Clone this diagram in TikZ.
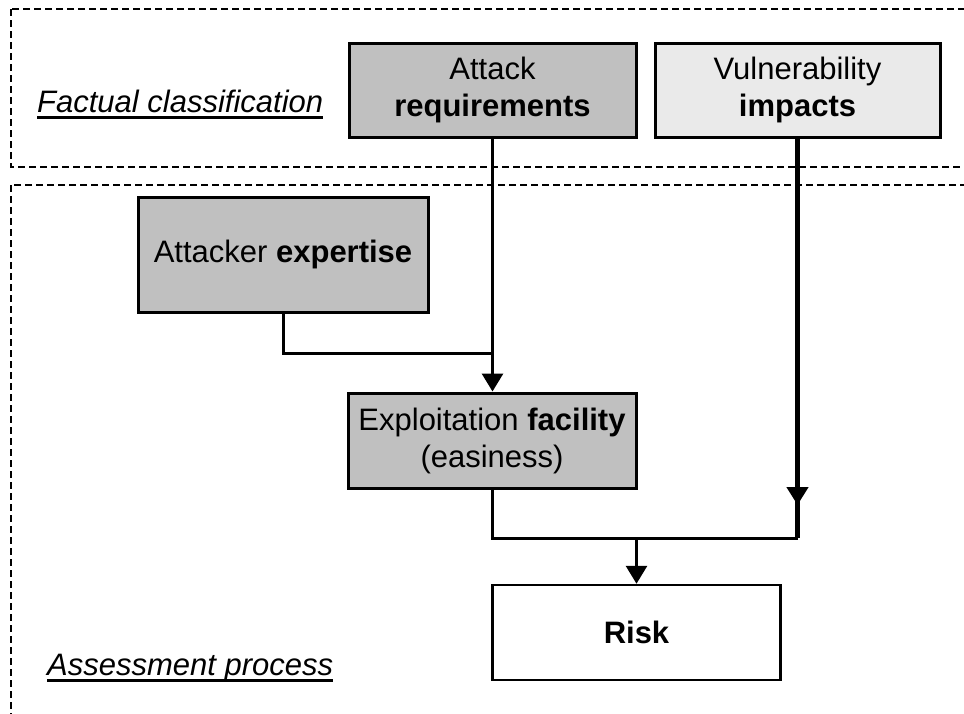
\documentclass[tikz,border=0pt]{standalone}
\usepackage{fontspec}
\setmainfont{Liberation Sans}
\usetikzlibrary{arrows.meta}
\definecolor{boxgray}{HTML}{C0C0C0}
\definecolor{boxlight}{HTML}{EAEAEA}
\begin{document}
\begin{tikzpicture}[x=1pt,y=-1pt,
  every node/.style={font=\fontsize{31}{37}\selectfont},
  blk/.style={draw,line width=3pt,align=center,inner sep=0pt},
  region/.style={draw,line width=2.5pt,dash pattern=on 7pt off 4pt},
  conn/.style={line width=3pt},
  heavy/.style={line width=4.5pt},
  tip/.style={-{Triangle[width=21pt,length=18pt]}}
]
\useasboundingbox (0,0) rectangle (964,713);
\begin{scope}
\clip (0,0) rectangle (964,713);
\draw[region] (11,9) rectangle (990,167);
\draw[region] (11,185) rectangle (990,740);
\end{scope}

\node[anchor=base west,inner xsep=0pt] (fc) at (37,112) {\textit{Factual classification}};
\draw[line width=3pt] ([yshift=-5pt]fc.base west) -- ([yshift=-5pt]fc.base east);
\node[anchor=base west,inner xsep=0pt] (ap) at (47,675) {\textit{Assessment process}};
\draw[line width=3pt] ([yshift=-5pt]ap.base west) -- ([yshift=-5pt]ap.base east);

\node[blk,fill=boxgray,minimum width=287pt,minimum height=94pt] (attack) at (492.5,90) {Attack\\\textbf{requirements}};
\node[blk,fill=boxlight,minimum width=285pt,minimum height=94pt] (vuln) at (797.5,90) {Vulnerability\\\textbf{impacts}};
\node[blk,fill=boxgray,minimum width=290pt,minimum height=115pt] (expert) at (283,254.5) {Attacker \textbf{expertise}};
\node[blk,fill=boxgray,minimum width=288pt,minimum height=95pt] (expl) at (492,440.5) {Exploitation \textbf{facility}\\(easiness)};
\node[draw,line width=2.5pt,fill=white,minimum width=288pt,minimum height=95pt] (risk) at (636.5,632.5) {\textbf{Risk}};

\coordinate (j1) at (492.5,353);
\coordinate (v1) at (797.5,505);
\coordinate (v2) at (797.5,538);
\coordinate (r0) at (636.5,538);

\draw[conn,tip] (attack.south) -- (attack.south |- expl.north);
\draw[conn] (expert.south) |- (j1);
\draw[heavy] (vuln.south) -- (v2);
\draw[heavy,tip] (vuln.south) -- (v1);
\draw[conn] (expl.south) |- (v2);
\draw[conn,tip] (r0) -- (risk.north);
\end{tikzpicture}
\end{document}
